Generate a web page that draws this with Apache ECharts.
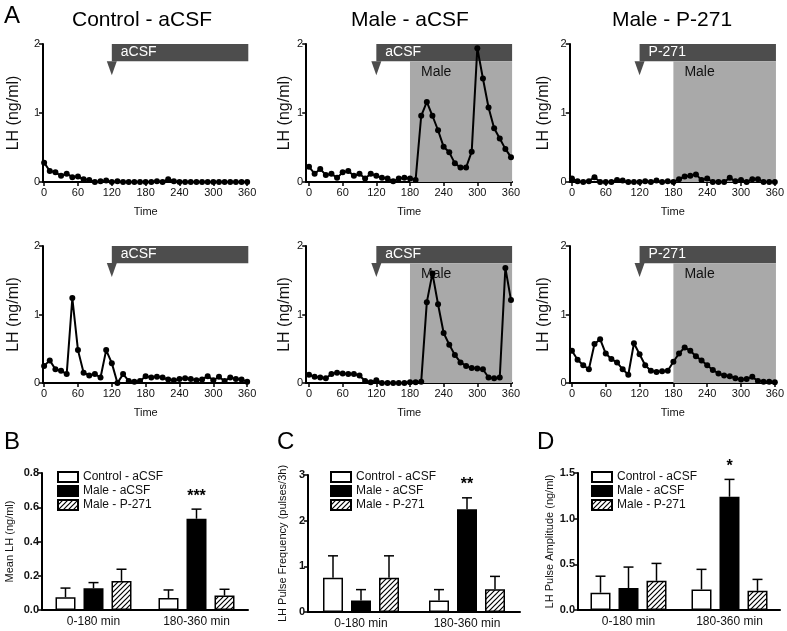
<!DOCTYPE html>
<html><head><meta charset="utf-8">
<script src="https://cdn.jsdelivr.net/npm/echarts@6/dist/echarts.min.js"></script>
<style>html,body{margin:0;padding:0;background:#fff}#c{width:787px;height:631px}</style>
</head><body><div id="c"></div>
<script>
// ---------- DATA ----------
const timePoints = [0,10,20,30,40,50,60,70,80,90,100,110,120,130,140,150,160,170,180,190,200,210,220,230,240,250,260,270,280,290,300,310,320,330,340,350,360];
const timeTicks = [0,60,120,180,240,300,360];

const controlACSF_1 = [0.28,0.16,0.14,0.09,0.12,0.07,0.08,0.04,0.03,0.0,0.01,0.02,0.0,0.01,0.0,0.0,0.0,0.0,0.0,0.0,0.01,0.0,0.04,0.01,0.0,0.0,0.0,0.0,0.0,0.0,0.0,0.0,0.0,0.0,0.0,0.0,0.0];
const maleACSF_1 = [0.22,0.12,0.19,0.10,0.12,0.06,0.14,0.16,0.09,0.12,0.05,0.12,0.09,0.06,0.05,0.01,0.05,0.06,0.05,0.03,0.96,1.16,0.96,0.75,0.51,0.43,0.27,0.21,0.21,0.44,1.94,1.50,1.08,0.78,0.63,0.48,0.36];
const maleP271_1 = [0.05,0.01,0.0,0.01,0.07,0.0,0.0,0.0,0.03,0.02,0.0,0.0,0.0,0.01,0.0,0.02,0.0,0.01,0.0,0.04,0.08,0.09,0.11,0.03,0.05,0.0,0.0,0.0,0.06,0.01,0.03,0.0,0.04,0.04,0.0,0.0,0.0];
const controlACSF_2 = [0.25,0.33,0.2,0.18,0.13,1.24,0.48,0.15,0.11,0.13,0.08,0.48,0.29,0.0,0.13,0.03,0.02,0.03,0.1,0.08,0.09,0.08,0.05,0.04,0.06,0.07,0.06,0.04,0.05,0.1,0.04,0.09,0.03,0.08,0.06,0.05,0.02];
const maleACSF_2 = [0.12,0.09,0.08,0.07,0.13,0.15,0.14,0.13,0.13,0.11,0.03,0.01,0.04,0.0,0.0,0.0,0.0,0.0,0.01,0.01,0.02,1.18,1.60,1.15,0.73,0.56,0.41,0.30,0.25,0.22,0.21,0.2,0.08,0.07,0.08,1.68,1.21];
const maleP271_2 = [0.47,0.34,0.26,0.2,0.57,0.64,0.43,0.35,0.30,0.2,0.12,0.58,0.42,0.26,0.18,0.16,0.17,0.18,0.31,0.43,0.52,0.47,0.39,0.33,0.26,0.19,0.14,0.11,0.1,0.07,0.05,0.06,0.09,0.03,0.02,0.02,0.01];

const panelTitles = ['Control - aCSF','Male - aCSF','Male - P-271'];
const infusionLabels = ['aCSF','aCSF','P-271'];
const infusionStart = 120;
const maleStart = 180;

const barCategories = ['0-180 min','180-360 min'];
const groupNames = ['Control - aCSF','Male - aCSF','Male - P-271'];

const meanLH_control = [0.075,0.07],  meanLH_controlErr = [0.053,0.047];
const meanLH_male    = [0.127,0.533], meanLH_maleErr    = [0.033,0.056];
const meanLH_p271    = [0.17,0.084],  meanLH_p271Err    = [0.068,0.037];
const meanLH_notes   = [['',''],['','***'],['','']];

const freq_control = [0.75,0.25], freq_controlErr = [0.48,0.24];
const freq_male    = [0.25,2.25], freq_maleErr    = [0.24,0.25];
const freq_p271    = [0.75,0.5],  freq_p271Err    = [0.48,0.28];
const freq_notes   = [['',''],['','**'],['','']];

const amp_control = [0.19,0.225], amp_controlErr = [0.18,0.22];
const amp_male    = [0.24,1.24],  amp_maleErr    = [0.23,0.19];
const amp_p271    = [0.32,0.21],  amp_p271Err    = [0.19,0.125];
const amp_notes   = [['',''],['','*'],['','']];

// ---------- BUILD ----------
const FONT = '"Liberation Sans", Arial, Helvetica, sans-serif';
const DARK = '#4d4d4d', SHADE = '#a9a9a9';

const hc = document.createElement('canvas'); hc.width = 5; hc.height = 5;
const g = hc.getContext('2d');
g.fillStyle = '#fff'; g.fillRect(0,0,5,5);
g.strokeStyle = '#000'; g.lineWidth = 1.2;
g.beginPath(); g.moveTo(0,5); g.lineTo(5,0); g.moveTo(-1,1); g.lineTo(1,-1); g.moveTo(4,6); g.lineTo(6,4); g.stroke();
const hatch = {image: hc, repeat: 'repeat'};

const lineCols = [
  {left:43, width:205.3, min:-2, nameGap:21},
  {left:306.2, width:205.9, min:-5, nameGap:14},
  {left:569.7, width:207.4, min:-4, nameGap:18}
];
const lineRows = [{top:44, height:138}, {top:246, height:137}];
const lineData = [[controlACSF_1, maleACSF_1, maleP271_1],[controlACSF_2, maleACSF_2, maleP271_2]];

const grid = [], xAxis = [], yAxis = [], series = [], graphic = [];
const axisLineStyle = {color:'#000', width:2};

let gi = 0;
lineRows.forEach((row, r) => {
  lineCols.forEach((col, c) => {
    grid.push({left:col.left, top:row.top, width:col.width, height:row.height});
    xAxis.push({type:'value', gridIndex:gi, min:col.min, max:362,
      name:'Time', nameLocation:'middle', nameGap:24,
      nameTextStyle:{fontSize:11, color:'#111', fontFamily:FONT},
      axisLine:{show:true, onZero:false, lineStyle:axisLineStyle},
      axisTick:{show:true, customValues:timeTicks, length:4, lineStyle:{color:'#000', width:1.5}},
      axisLabel:{customValues:timeTicks, fontSize:11, color:'#111', margin:5, fontFamily:FONT},
      splitLine:{show:false}});
    yAxis.push({type:'value', gridIndex:gi, min:0, max:2, interval:1,
      name:'LH (ng/ml)', nameLocation:'middle', nameRotate:90, nameGap:col.nameGap,
      nameTextStyle:{fontSize:16, color:'#111', fontFamily:FONT},
      axisLine:{show:true, onZero:false, lineStyle:axisLineStyle},
      axisTick:{show:true, length:4, lineStyle:{color:'#000', width:1.5}},
      axisLabel:{fontSize:11, color:'#111', margin:3, fontFamily:FONT},
      splitLine:{show:false}});
    const areas = [[
      {xAxis:infusionStart, yAxis:1.75, name:infusionLabels[c],
        itemStyle:{color:DARK, opacity:1},
        label:{show:true, position:'insideLeft', distance:9, color:'#fff', fontSize:14, fontFamily:FONT}},
      {xAxis:362, yAxis:2.02}
    ]];
    if (c > 0) areas.push([
      {xAxis:maleStart, yAxis:0, name:'Male',
        itemStyle:{color:SHADE, opacity:1},
        label:{show:true, position:[11,4], color:'#111', fontSize:14, fontFamily:FONT}},
      {xAxis:362, yAxis:1.75}
    ]);
    series.push({type:'line', xAxisIndex:gi, yAxisIndex:gi, clip:false,
      data: timePoints.map((t,i) => [t, lineData[r][c][i]]),
      symbol:'circle', symbolSize:6, itemStyle:{color:'#000'},
      lineStyle:{color:'#000', width:2}, z:5,
      markArea:{silent:true, data:areas},
      markPoint:{silent:true, symbol:'path://M0,0L10,0L5,14Z', symbolSize:[10,14],
        itemStyle:{color:DARK}, label:{show:false},
        data:[{coord:[infusionStart, 1.65]}]}
    });
    gi++;
  });
});

const barPanels = [
  {left:42, top:473, width:206, height:137, max:0.8, interval:0.2, dec:1, name:'Mean LH (ng/ml)', nameGap:27,
   vals:[meanLH_control, meanLH_male, meanLH_p271], errs:[meanLH_controlErr, meanLH_maleErr, meanLH_p271Err], notes:meanLH_notes,
   legend:{left:57, top:471}},
  {left:308, top:475, width:212, height:137, max:3, interval:1, dec:0, name:'LH Pulse Frequency (pulses/3h)', nameGap:20,
   vals:[freq_control, freq_male, freq_p271], errs:[freq_controlErr, freq_maleErr, freq_p271Err], notes:freq_notes,
   legend:{left:330, top:471}},
  {left:578, top:473, width:202, height:137, max:1.5, interval:0.5, dec:1, name:'LH Pulse Amplitude (ng/ml)', nameGap:22,
   vals:[amp_control, amp_male, amp_p271], errs:[amp_controlErr, amp_maleErr, amp_p271Err], notes:amp_notes,
   legend:{left:591, top:471}}
];
const barColors = ['#fff', '#000', hatch];
const legends = [];

barPanels.forEach((p, k) => {
  grid.push({left:p.left, top:p.top, width:p.width, height:p.height});
  xAxis.push({type:'category', gridIndex:gi, data:barCategories,
    axisLine:{show:true, lineStyle:axisLineStyle}, axisTick:{show:false},
    axisLabel:{fontSize:12, color:'#111', margin:6, fontFamily:FONT}});
  yAxis.push({type:'value', gridIndex:gi, min:0, max:p.max, interval:p.interval,
    name:p.name, nameLocation:'middle', nameRotate:90, nameGap:p.nameGap,
    nameTextStyle:{fontSize:11, color:'#111', fontFamily:FONT},
    axisLine:{show:true, lineStyle:axisLineStyle},
    axisTick:{show:true, length:4, lineStyle:{color:'#000', width:1.5}},
    axisLabel:{fontSize:11, fontWeight:'bold', color:'#111', margin:3, fontFamily:FONT,
      formatter: v => v.toFixed(p.dec)},
    splitLine:{show:false}});
  for (let s = 0; s < 3; s++) {
    series.push({type:'bar', name:groupNames[s], xAxisIndex:gi, yAxisIndex:gi,
      data:p.vals[s], barWidth:20, barGap:'40%',
      itemStyle:{color:barColors[s], borderColor:'#000', borderWidth:1.5}, z:2});
  }
  for (let s = 0; s < 3; s++) {
    const notes = p.notes[s];
    series.push({type:'custom', name:'err'+k+'_'+s, xAxisIndex:gi, yAxisIndex:gi, z:4,
      data:p.vals[s].map((v,i) => [i, v, p.errs[s][i]]),
      encode:{x:0, y:1},
      renderItem:(params, api) => {
        const ci = api.value(0), v = api.value(1), e = api.value(2);
        const base = api.coord([ci, v]);
        const top = api.coord([ci, v + e]);
        const x = base[0] + (s - 1) * 28;
        const ch = [
          {type:'line', shape:{x1:x, y1:base[1], x2:x, y2:top[1]}, style:{stroke:'#000', lineWidth:1.5}},
          {type:'line', shape:{x1:x-5, y1:top[1], x2:x+5, y2:top[1]}, style:{stroke:'#000', lineWidth:1.5}}
        ];
        const note = notes[params.dataIndex];
        if (note) ch.push({type:'text', style:{text:note, x:x, y:top[1]-5, align:'center', verticalAlign:'bottom',
          font:'bold 16px ' + FONT, fill:'#000'}});
        return {type:'group', children:ch};
      }});
  }
  legends.push({data:groupNames, left:p.legend.left, top:p.legend.top, orient:'vertical',
    itemWidth:20, itemHeight:10, itemGap:2, icon:'rect', selectedMode:false,
    textStyle:{fontSize:12, color:'#111', fontFamily:FONT}, padding:0});
  gi++;
});

// titles and panel letters
const titleX = [142, 410, 672];
panelTitles.forEach((t, i) => graphic.push({type:'text', x: titleX[i], y: 20,
  style:{text:t, font:'21px ' + FONT, fill:'#000', align:'center', verticalAlign:'middle'}}));
[['A',4,4],['B',4,430],['C',277,430],['D',537,430]].forEach(([t,x,y]) =>
  graphic.push({type:'text', x:x, y:y, style:{text:t, font:'24px ' + FONT, fill:'#000'}}));

const chart = echarts.init(document.getElementById('c'), null, {renderer:'canvas'});
chart.setOption({
  animation:false,
  backgroundColor:'#fff',
  textStyle:{fontFamily:FONT},
  grid, xAxis, yAxis, series, legend:legends, graphic
});
</script></body></html>
